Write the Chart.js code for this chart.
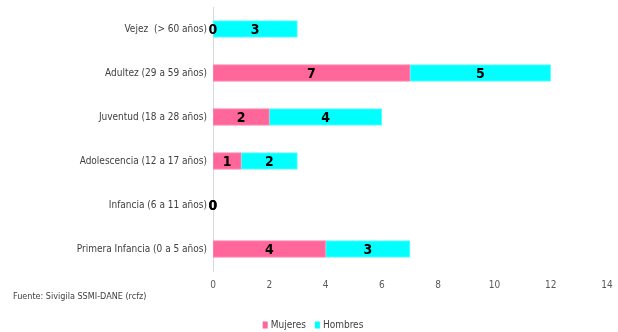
<!DOCTYPE html>
<html>
<head>
<meta charset="utf-8">
<script src="https://cdn.jsdelivr.net/npm/chart.js@4/dist/chart.umd.min.js"></script>
<style>
html,body{margin:0;padding:0;background:#fff;}
#wrap{position:relative;width:618px;height:332px;}
</style>
</head>
<body>
<div id="wrap"><canvas id="c" width="618" height="332"></canvas></div>
<script>
const categories = ["Vejez  (> 60 años)", "Adultez (29 a 59 años)", "Juventud (18 a 28 años)", "Adolescencia (12 a 17 años)", "Infancia (6 a 11 años)", "Primera Infancia (0 a 5 años)"];
const mujeres = [0, 7, 2, 1, 0, 4];
const hombres = [3, 5, 4, 2, 0, 3];
const xTicks = [0, 2, 4, 6, 8, 10, 12, 14];
const sourceText = "Fuente: Sivigila SSMI-DANE (rcfz)";

const FONT = "'Liberation Sans Narrow', 'DejaVu Sans Condensed', 'Open Sans', sans-serif";

const labelsPlugin = {
  id: 'barLabels',
  afterDatasetsDraw(chart) {
    const ctx = chart.ctx;
    ctx.save();
    ctx.font = "bold 14px " + FONT;
    ctx.fillStyle = "#000";
    ctx.textAlign = "center";
    ctx.textBaseline = "middle";
    chart.data.datasets.forEach((ds, di) => {
      const meta = chart.getDatasetMeta(di);
      meta.data.forEach((bar, i) => {
        const v = ds.data[i];
        const x = (bar.x + bar.base) / 2;
        ctx.fillText(String(v), x, bar.y + 1);
      });
    });
    ctx.restore();
  },
  afterDraw(chart) {
    const ctx = chart.ctx;
    ctx.save();
    // source note
    ctx.font = "9px " + FONT;
    ctx.fillStyle = "#404040";
    ctx.textAlign = "left";
    ctx.textBaseline = "middle";
    ctx.fillText(sourceText, 13, 297);
    // legend
    ctx.font = "10px " + FONT;
    const items = chart.data.datasets.map(d => ({ text: d.label, color: d.backgroundColor }));
    const boxW = 5, boxH = 7, gapBox = 3, gapItem = 9;
    let total = 0;
    items.forEach((it, i) => { it.w = ctx.measureText(it.text).width; total += boxW + gapBox + it.w + (i ? gapItem : 0); });
    let x = 313 - total / 2;
    const y = 325;
    items.forEach((it, i) => {
      if (i) x += gapItem;
      ctx.fillStyle = it.color;
      ctx.fillRect(x, y - boxH / 2, boxW, boxH);
      x += boxW + gapBox;
      ctx.fillStyle = "#404040";
      ctx.fillText(it.text, x, y);
      x += it.w;
    });
    ctx.restore();
  }
};

new Chart(document.getElementById('c'), {
  type: 'bar',
  data: {
    labels: categories,
    datasets: [
      { label: 'Mujeres', data: mujeres, backgroundColor: '#FF6699', borderColor: '#FF85AD', borderWidth: 1, borderSkipped: false, barThickness: 17 },
      { label: 'Hombres', data: hombres, backgroundColor: '#00FFFF', borderColor: '#66FFFF', borderWidth: 1, borderSkipped: false, barThickness: 17 }
    ]
  },
  options: {
    indexAxis: 'y',
    responsive: false,
    animation: false,
    devicePixelRatio: 1,
    layout: { padding: { top: 7, right: 11, left: 0, bottom: 0 } },
    scales: {
      x: {
        stacked: true,
        min: 0, max: 14,
        afterBuildTicks(s) { s.ticks = xTicks.map(v => ({ value: v })); },
        grid: { display: false, drawTicks: false },
        border: { display: false },
        ticks: { color: '#595959', font: { family: FONT, size: 10 }, padding: 8 },
        afterFit(s) { s.height = 61; s.paddingLeft = 0; s.paddingRight = 0; }
      },
      y: {
        stacked: true,
        grid: { display: false, drawTicks: false },
        border: { display: true, color: '#D9D9D9', width: 1 },
        ticks: { color: '#404040', font: { family: FONT, size: 10 }, padding: 6 },
        afterFit(s) { s.width = 213; s.paddingTop = 0; s.paddingBottom = 0; }
      }
    },
    plugins: {
      legend: { display: false },
      tooltip: { enabled: false }
    }
  },
  plugins: [labelsPlugin]
});
</script>
</body>
</html>
